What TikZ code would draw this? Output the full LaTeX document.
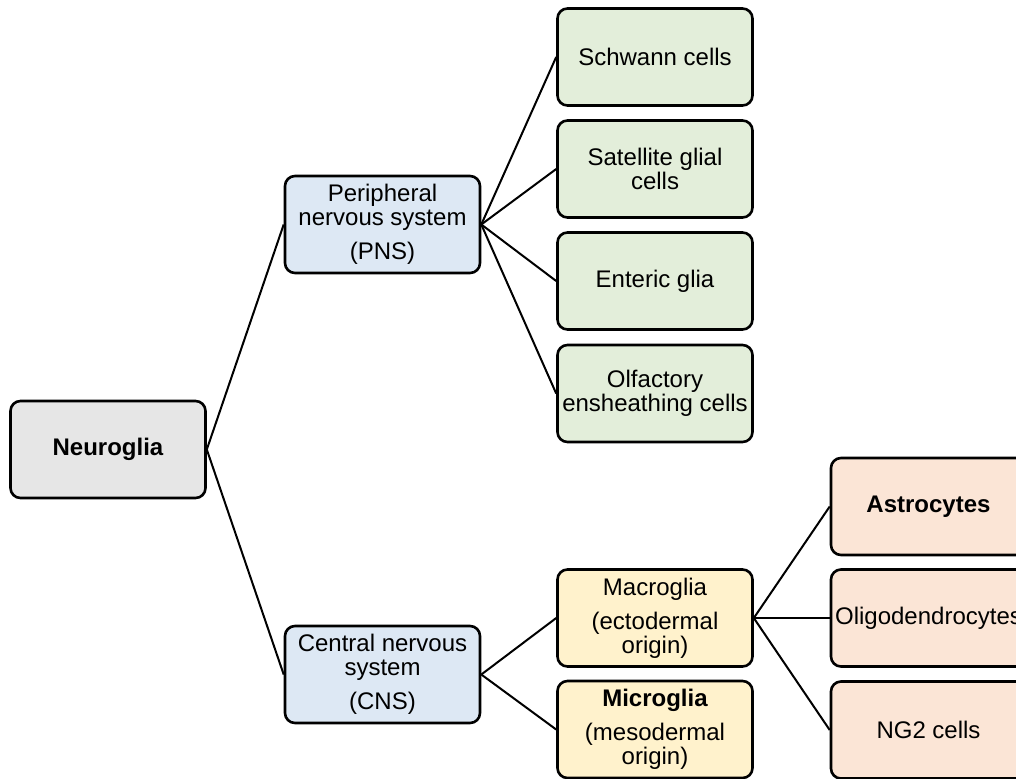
\documentclass[tikz,border=0pt]{standalone}
\usepackage{fontspec}
\setmainfont{Liberation Sans}
\definecolor{rootgray}{HTML}{E6E6E6}
\definecolor{sysblue}{HTML}{DDE8F4}
\definecolor{pnsgreen}{HTML}{E3EEDA}
\definecolor{cnsyellow}{HTML}{FFF2CC}
\definecolor{macroorange}{HTML}{FBE5D6}

\begin{document}
\begin{tikzpicture}[x=0.5pt,y=-0.5pt,
    box/.style={draw, line width=1.3pt, rounded corners=5pt, align=center,
      minimum width=97.5pt, minimum height=48.5pt, inner sep=0pt,
      font=\fontsize{12}{12}\selectfont},
    rootbox/.style={box, fill=rootgray},
    sysbox/.style={box, fill=sysblue},
    pnsbox/.style={box, fill=pnsgreen},
    cnsbox/.style={box, fill=cnsyellow},
    macrobox/.style={box, fill=macroorange},
    link/.style={line width=1pt}]
    \useasboundingbox (0,0) rectangle (1016,778);
    \clip (0,0) rectangle (1016,778);

    \node[rootbox] (neuroglia) at (108,449.5) {\textbf{Neuroglia}};
    \node[sysbox] (pns) at (382.5,224.5) {Peripheral\\nervous system\\[5pt](PNS)};
    \node[sysbox] (cns) at (382.5,674.5) {Central nervous\\system\\[5pt](CNS)};

    \node[pnsbox] (schwann) at (655,57) {Schwann cells};
    \node[pnsbox] (satellite) at (655,169) {Satellite glial\\cells};
    \node[pnsbox] (enteric) at (655,281) {Enteric glia};
    \node[pnsbox] (olfactory) at (655,393.5) {Olfactory\\ensheathing cells};

    \node[cnsbox] (macroglia) at (655,618) {Macroglia\\[5pt](ectodermal\\origin)};
    \node[cnsbox] (microglia) at (655,729.5) {\textbf{Microglia}\\[5pt](mesodermal\\origin)};

    \node[macrobox] (astrocytes) at (928.5,506.5) {\textbf{Astrocytes}};
    \node[macrobox] (oligo) at (928.5,618) {Oligodendrocytes};
    \node[macrobox] (ngtwo) at (928.5,730) {NG2 cells};

    \draw[link] (neuroglia.east) -- (pns.west);
    \draw[link] (neuroglia.east) -- (cns.west);
    \draw[link] (pns.east) -- (schwann.west);
    \draw[link] (pns.east) -- (satellite.west);
    \draw[link] (pns.east) -- (enteric.west);
    \draw[link] (pns.east) -- (olfactory.west);
    \draw[link] (cns.east) -- (macroglia.west);
    \draw[link] (cns.east) -- (microglia.west);
    \draw[link] (macroglia.east) -- (astrocytes.west);
    \draw[link] (macroglia.east) -- (oligo.west);
    \draw[link] (macroglia.east) -- (ngtwo.west);
\end{tikzpicture}
\end{document}
